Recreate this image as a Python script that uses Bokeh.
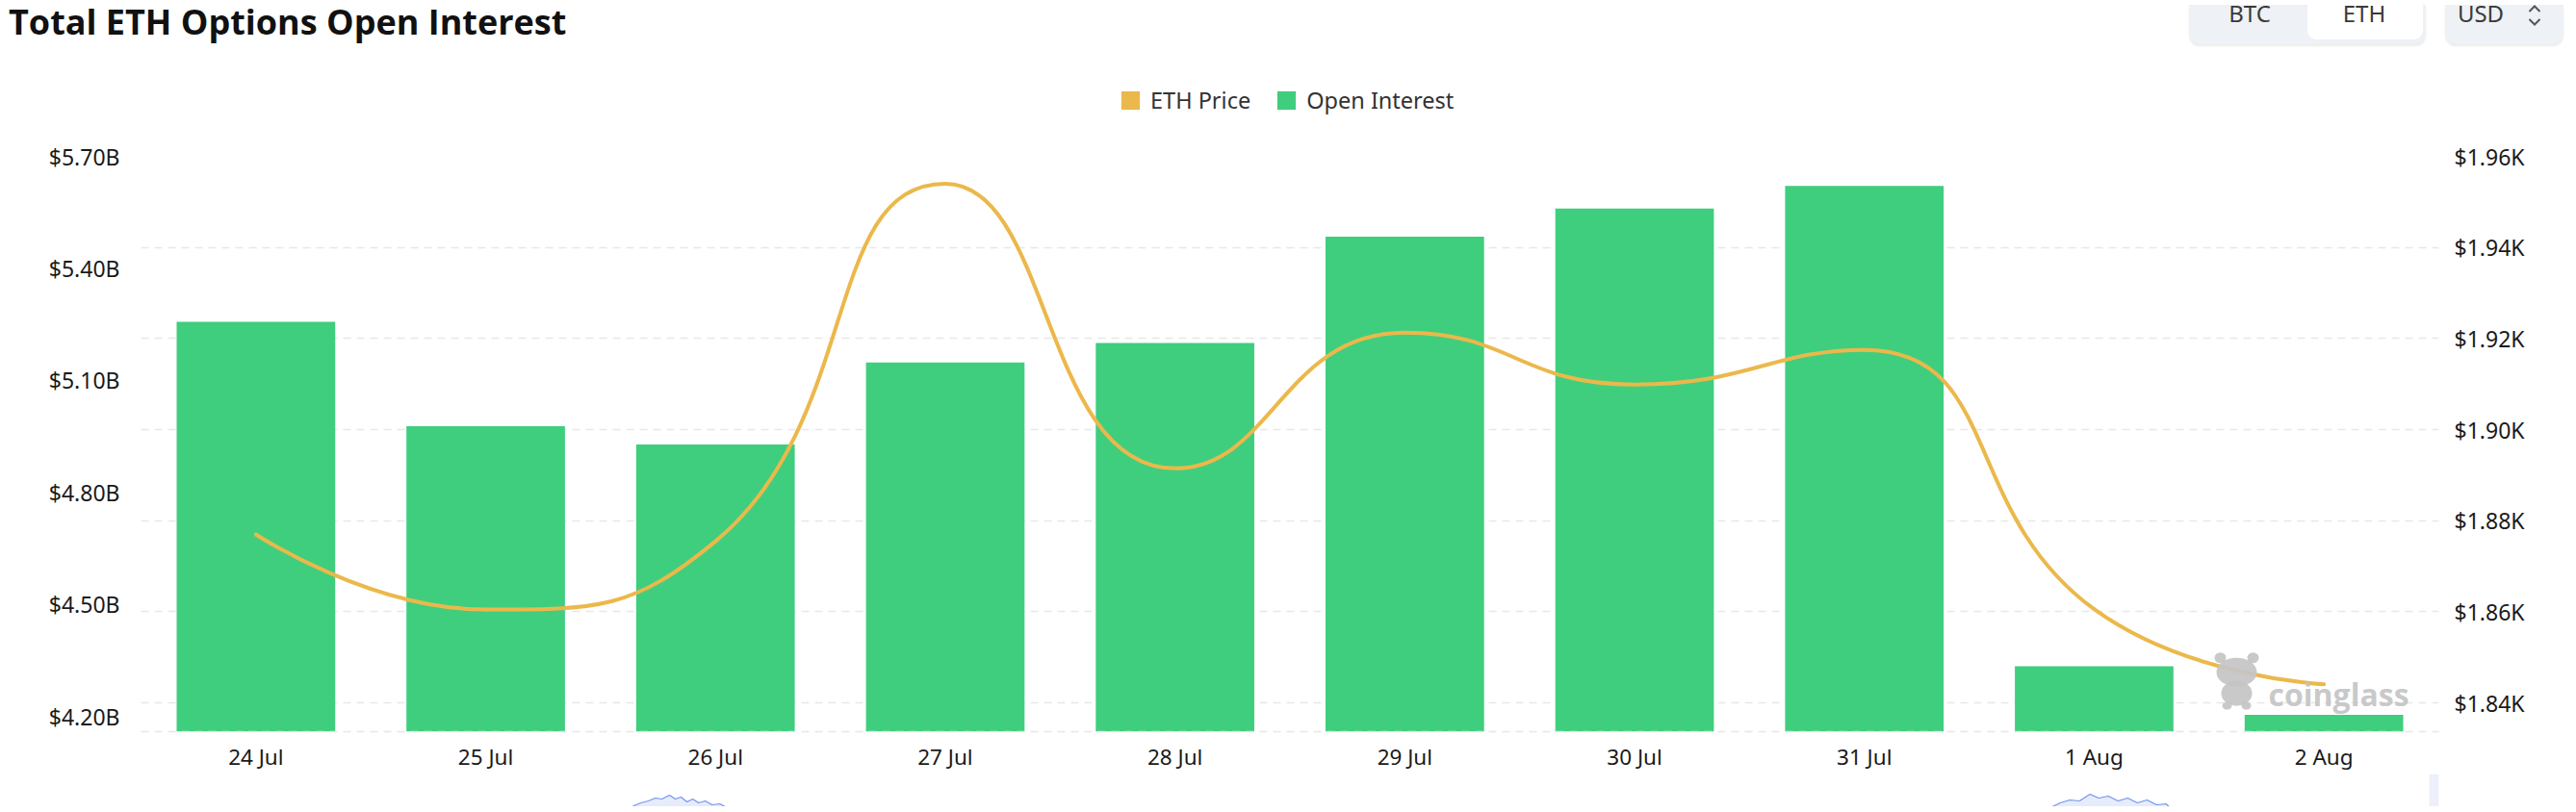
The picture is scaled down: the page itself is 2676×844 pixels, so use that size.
import math
from bokeh.plotting import figure
from bokeh.models import (Range1d, LinearAxis, FixedTicker, PrintfTickFormatter, Grid,
                          Legend, LegendItem, Div)
from bokeh.layouts import column
from bokeh.core.properties import value
from bokeh.embed import file_html
from bokeh.resources import INLINE

# ---------------- data ----------------
dates = ["24 Jul", "25 Jul", "26 Jul", "27 Jul", "28 Jul",
         "29 Jul", "30 Jul", "31 Jul", "1 Aug", "2 Aug"]
open_interest_b = [5.257, 4.977, 4.928, 5.148, 5.200, 5.485, 5.560, 5.621, 4.334, 4.204]
eth_price_k = [1.8770, 1.8605, 1.8755, 1.9540, 1.8915, 1.9213, 1.9099, 1.9175, 1.8606, 1.8441]
oi_ticks = [4.20, 4.50, 4.80, 5.10, 5.40, 5.70]
price_ticks = [1.84, 1.86, 1.88, 1.90, 1.92, 1.94, 1.96]

# navigator data shadow (only the tops of two humps are visible)
nav_x = [1.60, 1.645, 1.675, 1.708, 1.738, 1.767, 1.80, 1.825, 1.85, 1.876, 1.901, 1.927,
         1.956, 1.985, 2.019, 2.057, 2.103,
         7.768, 7.818, 7.852, 7.894, 7.936, 7.982, 8.02, 8.062, 8.104, 8.146, 8.188,
         8.23, 8.272, 8.313, 8.339, 8.377]
nav_v = [0, 9, 12, 14, 17, 16, 20, 16, 18, 13, 16, 12, 14, 10, 11, 6, 0,
         0, 8, 12, 15, 14, 21, 17, 19, 14, 17, 12, 15, 10, 11, 5, 0]

GREEN = "#3fce7e"
ORANGE = "#ebb84b"
FONT = "Noto Sans"
W = 2660

OI_MIN, OI_MAX = 4.159, 5.70
PR_MIN, PR_MAX = 1.8337, 1.96

# page geometry (ORG = page x of the canvas' left edge)
ORG = 4
PL, PR_, PT, PB = 150, 2537, 160, 760
FRAME_W, FRAME_H = PR_ - PL, PB - PT
BL, BR = PL - ORG, W - (PR_ - ORG)
HEAD_H = 42                 # page 8 .. 50
LEG_TOP = 8 + HEAD_H        # 50
LEG_H = 80                  # page 50 .. 130
MAIN_TOP = LEG_TOP + LEG_H  # 130
NAV_H = 34
MAIN_H = 836 - NAV_H - MAIN_TOP


def px_to_x(px):
    return -0.5 + (px - PL) / FRAME_W * len(dates)


def py_to_oi(py):
    return OI_MAX - (py - PT) / FRAME_H * (OI_MAX - OI_MIN)


# ---------------- header (title + currency switches) ----------------
def hx(page_x):
    return page_x - ORG


def btn_text(cx, label):
    return ('<div style="position:absolute;left:%dpx;top:-3px;width:90px;text-align:center;'
            'font-family:\'Noto Sans\';font-size:24px;line-height:24px;color:#3a3a3a;">%s</div>'
            % (hx(cx) - 45, label))


head_html = (
    '<div style="position:relative;width:%dpx;height:%dpx;">' % (W, HEAD_H)
    + '<div style="position:absolute;left:%dpx;top:0;font-family:\'Open Sans\';font-size:36px;'
      'line-height:36px;font-weight:700;color:#111;white-space:nowrap;">'
      'Total ETH Options Open Interest</div>' % hx(8)
    + '<div style="position:absolute;left:%dpx;top:0;width:246px;height:41px;background:#eef1f5;'
      'border-radius:0 0 11px 11px;box-shadow:0 2px 2px rgba(0,0,0,0.08);"></div>' % hx(2273)
    + '<div style="position:absolute;left:%dpx;top:0;width:120px;height:36px;background:#ffffff;'
      'border-radius:0 0 9px 9px;"></div>' % hx(2396)
    + '<div style="position:absolute;left:%dpx;top:0;width:123px;height:41px;background:#eef1f5;'
      'border-radius:0 0 11px 11px;box-shadow:0 2px 2px rgba(0,0,0,0.08);"></div>' % hx(2539)
    + btn_text(2336, "BTC") + btn_text(2455, "ETH") + btn_text(2576, "USD")
    + '<svg style="position:absolute;left:%dpx;top:0;" width="14" height="26">' % hx(2625)
    + '<polyline points="1.5,7 7,1.5 12.5,7" fill="none" stroke="#555" stroke-width="2"/>'
      '<polyline points="1.5,15 7,20.5 12.5,15" fill="none" stroke="#555" stroke-width="2"/>'
      '</svg>'
    + '</div>'
)
head = Div(text=head_html, width=W, height=HEAD_H)

# ---------------- legend strip ----------------
leg = figure(width=W, height=LEG_H, x_range=Range1d(0, 1), y_range=Range1d(0, 1),
             x_axis_type=None, y_axis_type=None, toolbar_location=None, output_backend="svg",
             min_border_left=BL, min_border_right=BR,
             min_border_top=0, min_border_bottom=0, outline_line_color=None)
leg.grid.visible = False
leg_price = leg.vbar(x=[0.5], top=[0], bottom=[0], width=0.1, fill_color=ORANGE, line_color=None)
leg_oi = leg.vbar(x=[0.5], top=[0], bottom=[0], width=0.1, fill_color=GREEN, line_color=None)
legend = Legend(items=[LegendItem(label="ETH Price", renderers=[leg_price]),
                       LegendItem(label="Open Interest", renderers=[leg_oi])],
                orientation="horizontal", location=(1166 - PL, MAIN_TOP - 118),
                glyph_width=24, glyph_height=24, label_standoff=9, spacing=25,
                padding=0, margin=0, border_line_color=None, background_fill_alpha=0,
                label_text_font=FONT, label_text_font_size="23.5px",
                label_text_color="#333333", label_height=24)
leg.add_layout(legend)

# ---------------- main chart ----------------
p = figure(width=W, height=MAIN_H, x_range=Range1d(-0.5, len(dates) - 0.5),
           y_range=Range1d(OI_MIN, OI_MAX), toolbar_location=None, output_backend="svg",
           min_border_left=BL, min_border_right=BR,
           min_border_top=PT - MAIN_TOP, min_border_bottom=MAIN_TOP + MAIN_H - PB,
           outline_line_color=None, background_fill_color="white", border_fill_color="white")
p.extra_y_ranges = {"price": Range1d(PR_MIN, PR_MAX)}
p.xgrid.visible = False
p.ygrid.visible = False

grid = Grid(dimension=1, ticker=FixedTicker(ticks=price_ticks), y_range_name="price",
            grid_line_color="#e8e8e8", grid_line_dash="8 6", grid_line_width=1.7)
p.add_layout(grid)

idx = list(range(len(dates)))
p.xaxis.ticker = FixedTicker(ticks=idx)
p.xaxis.major_label_overrides = {i: d for i, d in zip(idx, dates)}

yl = p.yaxis[0]
yl.ticker = FixedTicker(ticks=oi_ticks)
yl.formatter = PrintfTickFormatter(format="$%.2fB")

yr = LinearAxis(y_range_name="price", ticker=FixedTicker(ticks=price_ticks),
                formatter=PrintfTickFormatter(format="$%.2fK"))
p.add_layout(yr, "right")

for ax in [p.xaxis[0], yl, yr]:
    ax.major_tick_line_color = None
    ax.minor_tick_line_color = None
    ax.major_tick_out = 0
    ax.major_tick_in = 0
    ax.minor_tick_out = 0
    ax.minor_tick_in = 0
    ax.major_label_text_font = FONT
    ax.major_label_text_color = "#1a1a1a"
p.xaxis.major_label_text_font_size = "22.5px"
yl.major_label_text_font_size = "23px"
yr.major_label_text_font_size = "23px"
yl.axis_line_color = None
yr.axis_line_color = None
yl.major_label_standoff = 22
yr.major_label_standoff = 16
p.xaxis.major_label_standoff = 10
p.xaxis.axis_line_color = "#e6e6e6"
p.xaxis.axis_line_dash = "8 6"
p.xaxis.axis_line_width = 1.7

bars = p.vbar(x=idx, top=open_interest_b, bottom=OI_MIN, width=0.69,
              fill_color=GREEN, line_color=None)

# smooth line (ECharts-like bezier smoothing with constraint), computed in pixel space
sx = FRAME_W / len(dates)
sy = FRAME_H / (PR_MAX - PR_MIN)
X = [i * sx for i in idx]
Y = [v * sy for v in eth_price_k]
n = len(X)
smooth = 0.5
cp_in = [None] * n
cp_out = [None] * n
cp_out[0] = (X[0], Y[0])
cp_in[n - 1] = (X[n - 1], Y[n - 1])


def clamp(v, a, b):
    return min(max(v, min(a, b)), max(a, b))


for i in range(1, n - 1):
    px_, py_ = X[i - 1], Y[i - 1]
    x, y = X[i], Y[i]
    nx, ny = X[i + 1], Y[i + 1]
    vx, vy = nx - px_, ny - py_
    l0 = math.hypot(x - px_, y - py_)
    l1 = math.hypot(nx - x, ny - y)
    r = l1 / (l0 + l1)
    ncx = clamp(x + vx * smooth * r, nx, x)
    ncy = clamp(y + vy * smooth * r, ny, y)
    vx, vy = ncx - x, ncy - y
    c1x = clamp(x - vx * l0 / l1, px_, x)
    c1y = clamp(y - vy * l0 / l1, py_, y)
    vx, vy = x - c1x, y - c1y
    cp_in[i] = (c1x, c1y)
    cp_out[i] = (x + vx * l1 / l0, y + vy * l1 / l0)

p.bezier(x0=idx[:-1], y0=eth_price_k[:-1], x1=idx[1:], y1=eth_price_k[1:],
         cx0=[cp_out[i][0] / sx for i in range(n - 1)],
         cy0=[cp_out[i][1] / sy for i in range(n - 1)],
         cx1=[cp_in[i + 1][0] / sx for i in range(n - 1)],
         cy1=[cp_in[i + 1][1] / sy for i in range(n - 1)],
         y_range_name="price", line_color=ORANGE, line_width=4, line_cap="round")

# watermark
WM = "#c4c4c4"
p.ellipse(x=[px_to_x(2310), px_to_x(2344)], y=[py_to_oi(683), py_to_oi(683)],
          width=12, height=11, width_units="screen", height_units="screen",
          fill_color=WM, line_color=None, fill_alpha=0.92)
p.ellipse(x=[px_to_x(2327)], y=[py_to_oi(698)], width=42, height=30,
          width_units="screen", height_units="screen", fill_color=WM, line_color=None,
          fill_alpha=0.92)
p.ellipse(x=[px_to_x(2327)], y=[py_to_oi(720)], width=32, height=26,
          width_units="screen", height_units="screen", fill_color=WM, line_color=None,
          fill_alpha=0.92)
p.ellipse(x=[px_to_x(2317), px_to_x(2337)], y=[py_to_oi(733), py_to_oi(733)],
          width=10, height=8, width_units="screen", height_units="screen",
          fill_color=WM, line_color=None, fill_alpha=0.92)
p.text(x=[px_to_x(2360)], y=[py_to_oi(721)], text=["coinglass"],
       text_font=value("Open Sans"), text_font_style="bold", text_font_size="32px",
       text_color=WM, text_alpha=0.92, text_baseline="alphabetic", text_align="left")

# ---------------- navigator strip ----------------
nav = figure(width=W, height=NAV_H, x_range=Range1d(-0.5, len(dates) - 0.5),
             y_range=Range1d(8, 8 + NAV_H), x_axis_type=None, y_axis_type=None,
             toolbar_location=None, output_backend="svg",
             min_border_left=BL, min_border_right=BR,
             min_border_top=0, min_border_bottom=0, outline_line_color=None)
nav.grid.visible = False
nav.varea(x=nav_x, y1=0, y2=nav_v, fill_color="#e6ecfb")
nav.line(x=nav_x, y=nav_v, line_color="#7394f0", line_width=1.2)
nav.quad(left=[px_to_x(2527)], right=[px_to_x(2537)], bottom=[0], top=[8 + NAV_H],
         fill_color="#edf0fa", line_color=None)

layout = column(head, leg, p, nav, spacing=0)
open("out.html", "w").write(file_html(layout, INLINE))
